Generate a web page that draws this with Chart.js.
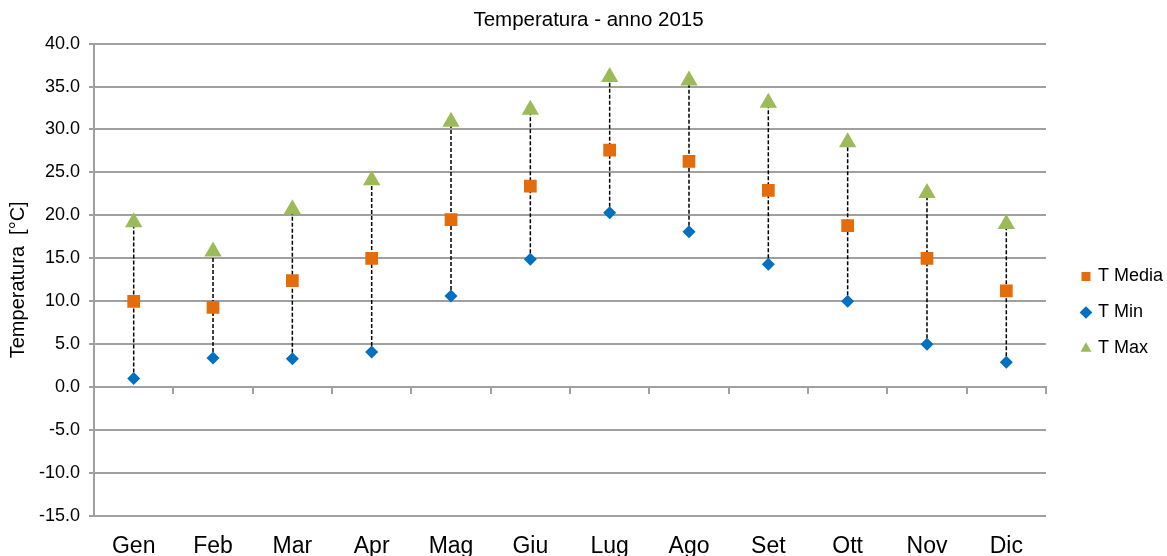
<!DOCTYPE html>
<html>
<head>
<meta charset="utf-8">
<style>
  html, body { margin: 0; padding: 0; background: #fff; }
</style>
</head>
<body>
<canvas id="tempChart" width="1167" height="556"></canvas>
<script src="https://cdn.jsdelivr.net/npm/chart.js"></script>
<script>
const mesi = ['Gen','Feb','Mar','Apr','Mag','Giu','Lug','Ago','Set','Ott','Nov','Dic'];
const tMedia = [10.0, 9.3, 12.4, 15.0, 19.5, 23.4, 27.6, 26.3, 22.9, 18.8, 15.0, 11.2];
const tMin   = [1.0, 3.4, 3.3, 4.1, 10.6, 14.9, 20.3, 18.1, 14.3, 10.0, 5.0, 2.9];
const tMax   = [19.2, 15.8, 20.7, 24.1, 30.9, 32.3, 36.1, 35.7, 33.1, 28.5, 22.6, 19.0];
const yMin = -15, yMax = 40, yStep = 5;

const grigio = '#a0a0a0';
const fontBase = "'Liberation Sans', Arial, sans-serif";

// linee tratteggiate tra minimo e massimo
const rangeLines = {
    id: 'rangeLines',
    beforeDatasetsDraw(chart) {
        const c = chart.ctx;
        const x = chart.scales.x, y = chart.scales.y;
        c.save();
        c.strokeStyle = '#000';
        c.lineWidth = 1.5;
        c.setLineDash([4, 2]);
        mesi.forEach((m, i) => {
            const px = x.getPixelForValue(i);
            c.beginPath();
            c.moveTo(px, y.getPixelForValue(tMin[i]));
            c.lineTo(px, y.getPixelForValue(tMax[i]));
            c.stroke();
        });
        c.restore();
    }
};

const ctx = document.getElementById('tempChart').getContext('2d');
const chart = new Chart(ctx, {
    type: 'line',
    data: {
        labels: mesi,
        datasets: [
            { label: 'T Media', data: tMedia, showLine: false, pointStyle: 'rect',
              pointRadius: 9, pointHoverRadius: 9, backgroundColor: '#E46C0A', borderColor: '#E46C0A', borderWidth: 0 },
            { label: 'T Min', data: tMin, showLine: false, pointStyle: 'rectRot',
              pointRadius: 6.5, pointHoverRadius: 6.5, backgroundColor: '#0070C0', borderColor: '#0070C0', borderWidth: 0 },
            { label: 'T Max', data: tMax, showLine: false, pointStyle: 'triangle',
              pointRadius: 10, pointHoverRadius: 10, backgroundColor: '#9BBB59', borderColor: '#9BBB59', borderWidth: 0 }
        ]
    },
    options: {
        responsive: false,
        animation: false,
        layout: { padding: { left: 4, right: -6, top: 0, bottom: 0 } },
        plugins: {
            title: {
                display: true,
                text: 'Temperatura - anno 2015',
                color: '#000',
                font: { family: fontBase, size: 20.5, weight: 'normal' },
                padding: { top: 8, bottom: 11 }
            },
            legend: {
                position: 'right',
                title: { display: true, text: ' ', font: { size: 10 }, padding: { top: 0, bottom: 57 } },
                labels: {
                    usePointStyle: true,
                    boxWidth: 6,
                    boxHeight: 9,
                    padding: 18,
                    color: '#000',
                    font: { family: fontBase, size: 18 }
                }
            },
            tooltip: { enabled: false }
        },
        scales: {
            x: {
                offset: true,
                grid: { display: false, drawTicks: false },
                border: { display: false },
                ticks: { color: '#000', padding: 17, font: { family: fontBase, size: 23 } },
                afterFit: s => { s.height = 40; }
            },
            x0: {
                type: 'category',
                position: { y: 0 },
                offset: true,
                grid: { offset: true, drawOnChartArea: false, drawTicks: true, tickLength: 6, color: grigio, lineWidth: 2 },
                border: { color: grigio, width: 2 },
                ticks: { display: false }
            },
            y: {
                min: yMin,
                max: yMax,
                ticks: {
                    stepSize: yStep,
                    color: '#000',
                    padding: 9,
                    font: { family: fontBase, size: 18 },
                    callback: v => v.toFixed(1)
                },
                grid: { color: grigio, lineWidth: 2, tickLength: 5 },
                border: { color: grigio, width: 2 },
                title: {
                    display: true,
                    text: 'Temperatura  [°C]',
                    color: '#000',
                    font: { family: fontBase, size: 20 },
                    padding: { top: 2, bottom: 0 }
                }
            },
            // spazio vuoto tra area del grafico e legenda
            yGap: {
                position: 'right',
                display: true,
                grid: { display: false },
                border: { display: false },
                ticks: { display: false },
                afterFit: s => { s.width = 19; }
            }
        }
    },
    plugins: [rangeLines]
});
</script>
</body>
</html>
